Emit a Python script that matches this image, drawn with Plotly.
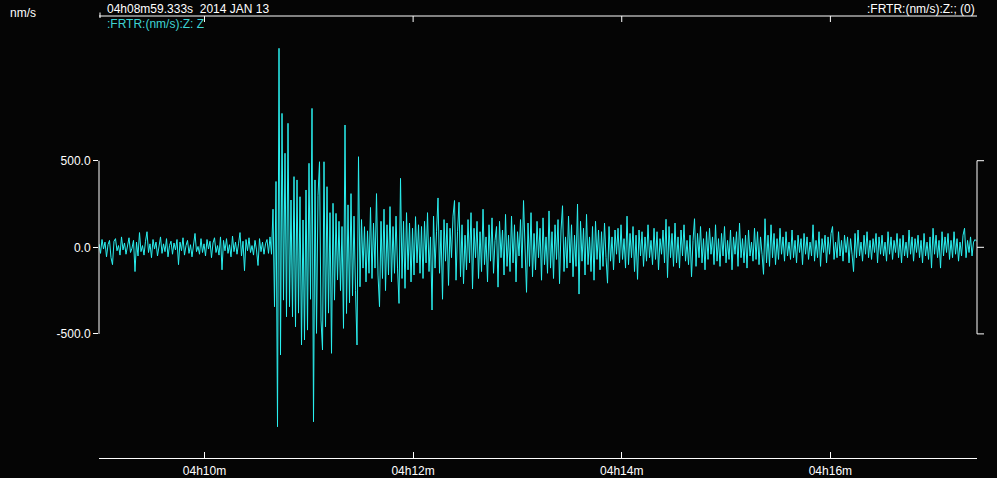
import plotly.graph_objects as go

# ---- data (nm/s), decimated trace ----
SAMPLE_INTERVAL_S = 0.8628   # seconds between plotted samples
START_LABEL = "04h08m59.333s\u00a0\u00a02014 JAN 13"
CHANNEL_LABEL = ":FRTR:(nm/s):Z: Z"
RIGHT_LABEL = ":FRTR:(nm/s):Z:; (0)"
UNITS = "nm/s"

pre_event = [
    20, -35, 45, -10, 30, -55, 15, 40, -60, -100,
    35, 50, -20, 10, -45, 60, -15, 25, -40, 15,
    55, -30, -5, 40, -140, 30, -50, 85, -25, 10,
    -45, 35, 90, -30, 20, -60, 45, -10, 30, -50,
    15, 60, -35, 20, -25, 50, -55, 10, 35, -40,
    25, -15, 45, -100, 30, -20, 55, -45, 10, 40,
    -35, 15, -55, 30, 80, -25, 5, -40, 50, -30,
    20, -50, 45, -10, 35, -60, 25, 55, -30, 10,
    -45, 60, -130, 40, -20, 50, -35, 15, -55, 65,
    -25, 30, -40, 20, 85, -50, 35, -135, 45, -20,
    55, -30, 10, -45, 40, -15, -105, 50, -25, 30,
    -40, 20, 45, -35, 60, -40,
]

event_main = [
    220, -343, 380, -1036, 1149, -622, 773, -305, 543, -401,
    716, -343, 273, -401, 408, -459, 389, -380, 292, -564,
    158, -535, 331, -478, 485, -300, 802, -1007, 389, -497,
    300, 494, -420, -593, 494, -459, 350, -380, 200, -612,
    254, -305, 196, -189, 150, -250, 120, -468, 706, -382,
    245, -320, 310, -280, 180, -250, -564, 523, -228, 160,
    -120, 119, -200, 95, -150, 230, -180, 140, -120, 310,
    -160, -343, 150, -180, 220, -250, 130, -160, 235, -200,
    120, -150, 180, -120, -324, 398, -180, 150, -237, 200,
    -130, 140, -200, 110, -160, 177, -90, 130, -150,
]

coda_early = [
    120, -180, 150, -90, 200, -140, 60, -362, 180, -120,
    90, 285, -150, 100, -300, 160, -80, 140, -220, 110,
    -60, 180, 270, -190, 90, 260, -170, 130, -210, 70,
    -130, 160, -90, 200, -240, 110, -60, 150, -180, 90,
    -140, 220, -100, 60, -200, 130, -80, 170, -150, 40,
    120, -230, 150, -60, 100, -160, 190, -110, 70, -140,
    180, -90, 130, -200, 90, -50, 160, -120, 270, -80,
    -260, 140, -110, 200, -170, 80, -130, 150, -60, 110,
    -190, 170, -100, 60, -150, 210, -120, 90, -180, 130,
    -70, 160, -210, 100, 240, -140, 60, -120, 180, -90,
    130, -170, 70, -110, 250, -270, 150, -80, 110, -160,
    190, -100, 60, -140, 120, -190, 150, -70, 100, -130,
]

coda_mid = [
    90, -110, 140, -60, -207, 120, -80, 60, -130, 100,
    -40, 110, -90, 130, -70, 50, -120, 180, -100, 80,
    -60, 120, -140, 70, -185, 100, -50, 90, -110, 60,
    -80, 130, -60, 40, -100, 110, -70, 90, -130, 50,
    -40, 100, -90, 162, -175, 120, -60, 80, -110, 140,
    -90, 60, -120, 100, -50, 130, -80, 40, -100, 70,
    -170, 40, 165, -110, 80, -60, 120, -90, 50, -130,
    90, -70, 110, -40, 60, -100, 130, -80, 50, -110,
    80, -50, 120, -90, 40, -70, 100, -130, 60, -40,
    90, -110, 140, -60, 50, -90, 70, -120, 100, -50,
    30, -80, 110, -70, 90, -100, 60, -40, -156, 165,
    -90, 70, -110, 130, -60, 80, -100, 50, -70, 110,
]

coda_late = [
    -40, 60, -80, 90, -50, 30, -70, 100, -60, 40,
    -90, 70, -30, 50, -100, 80, -40, 60, -70, 30,
    -50, 130, -80, 40, -60, 90, -110, 50, -30, 70,
    -90, 60, -40, 80, 120, -70, 30, -60, 90, -50,
    40, -80, 70, -30, 60, -90, 50, -40, -140, 80,
    -60, 100, -50, 30, -80, 70, -40, 90, -60, 40,
    -70, 50, -30, 80, -90, 60, -40, 70, -50, 30,
    -80, 90, -40, 60, -70, 40, -30, 80, -60, 50,
    -90, 70, -50, 30, -60, 100, -40, 60, -80, 50,
    -30, 70, -60, 40, -90, 80, -50, 30, -70, 60,
    -120, 110, -40, 70, -60, 40, -120, 90, -50, 60,
    -30, 80, -70, 40, -60, 90, -40, 50, -80, 30,
    -50, 70, 110, -60, 40, -30, 60, -50, 30, 45, 35,
]

tick_seconds = [60.667, 180.667, 300.667, 420.667]
tick_labels = ["04h10m", "04h12m", "04h14m", "04h16m"]
amp_ticks = [-500, 0, 500]
amp_labels = ["-500.0", "0.0", "500.0"]

# ---- build ----
amplitude = pre_event + event_main + coda_early + coda_mid + coda_late
times = [i * SAMPLE_INTERVAL_S for i in range(len(amplitude))]

TRACE = "#2af0f0"
WHITE = "#ffffff"
BG = "#050505"
FONT = "Liberation Sans, Arial, sans-serif"

# target picture geometry (pixels)
W, H_T = 997, 478
# the capture squeezes the page vertically (~490 -> 478), so lay the page out taller
H = 490
SY = H / H_T
PLOT_TOP_T, PLOT_BOT_T = 16, 458
ML, MR = 99, 20
MT = PLOT_TOP_T * SY
MB = H - PLOT_BOT_T * SY
PH = H - MT - MB
PW = W - ML - MR

def py(pix_t):    # target pixel y -> paper y
    return (H - MB - pix_t * SY) / PH

def px(pix):      # pixel x -> paper x
    return (pix - ML) / PW

fig = go.Figure()
fig.add_trace(go.Scatter(x=times, y=amplitude, mode="lines",
                         line=dict(color=TRACE, width=1), hoverinfo="skip"))

shapes = []
line = dict(color=WHITE, width=1)
# left amplitude axis (only between -500 and 500)
shapes.append(dict(type="line", xref="paper", yref="y", x0=0, x1=0,
                   y0=amp_ticks[0], y1=amp_ticks[-1], line=line))
# right bracket
shapes.append(dict(type="line", xref="paper", yref="y", x0=1, x1=1,
                   y0=amp_ticks[0], y1=amp_ticks[-1], line=line))
for v in amp_ticks:
    shapes.append(dict(type="line", xref="paper", yref="y", x0=1, x1=px(ML + PW + 7),
                       y0=v, y1=v, line=line))
# top time line
shapes.append(dict(type="line", xref="paper", yref="paper", x0=0, x1=1,
                   y0=1, y1=1, line=line))
shapes.append(dict(type="line", xref="paper", yref="paper", x0=px(100), x1=px(100),
                   y0=py(12.5), y1=py(18), line=line))
for t in tick_seconds:
    shapes.append(dict(type="line", xref="x", yref="paper", x0=t, x1=t,
                       y0=1, y1=py(22), line=line))

annotations = [
    dict(text=UNITS, xref="paper", yref="paper", x=px(8), y=py(12.5),
         xanchor="left", yanchor="middle", showarrow=False,
         font=dict(color=WHITE, size=12, family=FONT)),
    dict(text=START_LABEL, xref="paper", yref="paper", x=px(105), y=py(8.5),
         xanchor="left", yanchor="middle", showarrow=False,
         font=dict(color=WHITE, size=12, family=FONT)),
    dict(text=CHANNEL_LABEL, xref="paper", yref="paper", x=px(105), y=py(24),
         xanchor="left", yanchor="middle", showarrow=False,
         font=dict(color="#3fd4d4", size=12, family=FONT)),
    dict(text=RIGHT_LABEL, xref="paper", yref="paper", x=px(977), y=py(8.5),
         xanchor="right", yanchor="middle", showarrow=False,
         font=dict(color=WHITE, size=12, family=FONT)),
]

fig.update_layout(
    width=W, height=H,
    margin=dict(l=ML, r=MR, t=MT, b=MB, pad=0),
    paper_bgcolor=BG, plot_bgcolor=BG,
    showlegend=False,
    shapes=shapes, annotations=annotations,
    xaxis=dict(range=[0, 505], showgrid=False, zeroline=False,
               showline=True, linecolor=WHITE, linewidth=1,
               ticks="inside", ticklen=6, tickcolor=WHITE, tickwidth=1,
               tickvals=tick_seconds, ticktext=tick_labels,
               ticklabelstandoff=2,
               tickfont=dict(color=WHITE, size=12, family=FONT)),
    yaxis=dict(range=[-1216.5, 1335.5], showgrid=False, zeroline=False,
               showline=False, ticks="outside", ticklen=5, tickcolor=WHITE,
               tickwidth=1, tickvals=amp_ticks, ticktext=amp_labels,
               tickfont=dict(color=WHITE, size=12, family=FONT)),
)

page_fix = (
    "var s=document.createElement('style');"
    "s.textContent='html,body{margin:0;padding:0;overflow:hidden;"
    "background:#050505;}';"
    "document.head.appendChild(s);"
)

fig.write_html("out.html", config={"displayModeBar": False, "staticPlot": True},
               post_script=page_fix)
